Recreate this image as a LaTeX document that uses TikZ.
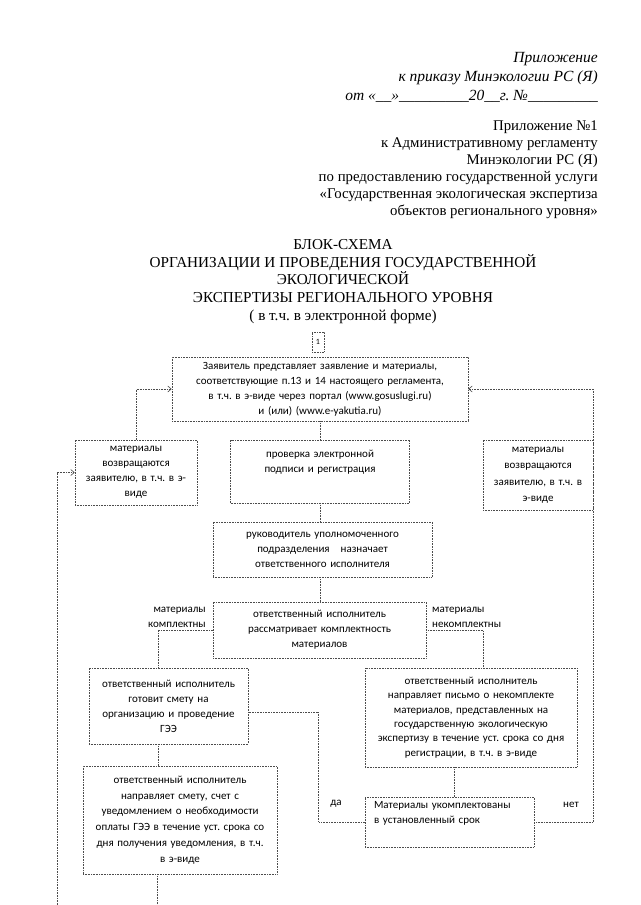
\documentclass[tikz,border=0pt]{standalone}
\usepackage{fontspec}
\setmainfont{Liberation Serif}
\newfontfamily\boxfont{Carlito}
\usetikzlibrary{arrows.meta}
\frenchspacing

\begin{document}
\begin{tikzpicture}[x=1pt, y=-1pt, >={Straight Barb[length=3.5pt,width=6pt]},
  blk/.style={draw=black!70, densely dotted, line width=0.6pt, inner sep=3pt, align=center,
    font=\boxfont\fontsize{11}{15}\selectfont},
  con/.style={draw=black!70, densely dotted, line width=0.6pt},
  lbl/.style={inner sep=0pt, font=\boxfont\fontsize{11}{15}\selectfont}]
\useasboundingbox (0,0) rectangle (640,905);

% heading
\node[anchor=north east, align=right, inner sep=0pt, font=\itshape\fontsize{15.5}{19}\selectfont] (hdrA) at (598,52)
  {Приложение\\к приказу Минэкологии РС (Я)\\от «\_\_»\_\_\_\_\_\_\_\_\_20\_\_г. №\_\_\_\_\_\_\_\_\_};
\node[anchor=north east, align=right, inner sep=0pt, font=\fontsize{14.8}{17}\selectfont] (hdrB) at (598,121)
  {Приложение №1\\к Административному регламенту\\Минэкологии РС (Я)\\по предоставлению государственной услуги\\«Государственная экологическая экспертиза\\объектов регионального уровня»};
\node[anchor=north, align=center, inner sep=0pt, font=\fontsize{15.2}{17.8}\selectfont] (title) at (343,239)
  {БЛОК-СХЕМА\\ОРГАНИЗАЦИИ И ПРОВЕДЕНИЯ ГОСУДАРСТВЕННОЙ\\ЭКОЛОГИЧЕСКОЙ\\ЭКСПЕРТИЗЫ РЕГИОНАЛЬНОГО УРОВНЯ\\( в т.ч. в электронной форме)};

% blocks
\node[blk, minimum width=12pt, minimum height=20pt, inner sep=0pt, font=\boxfont\fontsize{8}{9}\selectfont] (num) at (318,342) {1};
\node[blk, text width=290pt, minimum height=64pt] (top) at (320,389)
  {Заявитель представляет заявление и материалы,\\соответствующие п.13 и 14 настоящего регламента,\\в т.ч. в э-виде через портал (www.gosuslugi.ru)\\и (или) (www.e-yakutia.ru)};
\node[blk, text width=116pt, minimum height=65pt] (ret1) at (136,472.5)
  {материалы\\возвращаются\\заявителю, в т.ч. в э-\\виде};
\node[blk, text width=173pt, minimum height=63pt] (chk) at (320,471.5)
  {проверка электронной\\подписи и регистрация\\\strut};
\node[blk, text width=104pt, minimum height=70pt, font=\boxfont\fontsize{11}{16.5}\selectfont] (ret2) at (538,475)
  {материалы\\возвращаются\\заявителю, в т.ч. в\\э-виде};
\node[blk, text width=213pt, minimum height=55pt] (head) at (322.5,549.5)
  {руководитель уполномоченного\\подразделения\ \ \ назначает\\ответственного исполнителя};
\node[blk, text width=207pt, minimum height=56pt] (rev) at (319.5,630)
  {ответственный исполнитель\\рассматривает комплектность\\материалов};
\node[blk, text width=153pt, minimum height=76pt] (est) at (168.5,706)
  {ответственный исполнитель\\готовит смету на\\организацию и проведение\\ГЭЭ};
\node[blk, text width=206pt, minimum height=99pt, font=\boxfont\fontsize{11}{14.3}\selectfont] (lett) at (471,717.5)
  {ответственный исполнитель\\направляет письмо о некомплекте\\материалов, представленных на\\государственную экологическую\\экспертизу в течение уст. срока со дня\\регистрации, в т.ч. в э-виде};
\node[blk, text width=188pt, minimum height=108pt, font=\boxfont\fontsize{11}{15.8}\selectfont] (send) at (180,820)
  {ответственный исполнитель\\направляет смету, счет с\\уведомлением о необходимости\\оплаты ГЭЭ в течение уст. срока со\\дня получения уведомления, в т.ч.\\в э-виде};
\node[blk, align=left, inner xsep=9pt, text width=151pt, minimum height=50pt] (dec) at (449.5,822)
  {Материалы укомплектованы\\в установленный срок\\\strut};

% labels
\node[lbl, anchor=east, align=right] (okl) at (206,617) {материалы\\комплектны};
\node[lbl, anchor=west, align=left] (nokl) at (432,617) {материалы\\некомплектны};
\node[lbl] (yes) at (336,804) {да};
\node[lbl] (no) at (571,805) {нет};

% connectors
\coordinate (offL) at (57,905);
\coordinate (offB) at (157,905);
\draw[con, ->] (ret1.north) |- (top.west);
\draw[con, ->] (dec.east) -| (ret2.north east) |- (top.east);
\draw[con, ->] (offL) |- (ret1.west);
\draw[con] (top.south) -- (top.south |- chk.north);
\draw[con] (chk.south) -- (chk.south |- head.north);
\draw[con] (chk.south |- head.south) -- (chk.south |- rev.north);
\draw[con] (rev.west) -| ([xshift=-10.5pt]est.north);
\draw[con] ([xshift=-10.5pt]est.south) -- ([xshift=-10.5pt]est.south |- send.north);
\draw[con] (offB |- send.south) -- (offB);
\draw[con] (rev.east) -| ([xshift=12pt]lett.north);
\draw[con] ([xshift=-17pt]lett.south) -- ([xshift=-17pt]lett.south |- dec.north);
\draw[con] (dec.west) -- ++(-46,0) |- ([yshift=-6pt]est.east);
\end{tikzpicture}
\end{document}
